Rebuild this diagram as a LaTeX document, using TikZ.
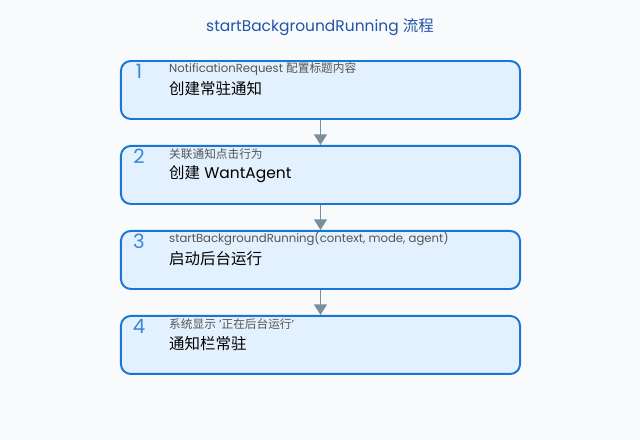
\documentclass[tikz,border=0pt]{standalone}
\usepackage{fontspec}
\setmainfont{Poppins}
\newfontfamily\cjk{Noto Sans CJK SC}
\usetikzlibrary{positioning,arrows.meta}
\definecolor{bgcol}{HTML}{F8FAFC}
\definecolor{boxblue}{HTML}{1976D2}
\definecolor{boxfill}{HTML}{E3F0FD}
\definecolor{arrowgray}{HTML}{78909C}
\definecolor{titleblue}{HTML}{2155A6}
\definecolor{numblue}{HTML}{3A86D8}
\definecolor{subgray}{HTML}{555555}
\tikzset{
  stepbox/.style={draw=boxblue, fill=boxfill, line width=1.4pt, rounded corners=7pt,
    minimum width=9.975cm, minimum height=1.45cm},
  stepnum/.style={text=numblue, font=\fontsize{14}{14}\selectfont, inner sep=0pt},
  subtext/.style={text=subgray, font=\fontsize{8.3}{10}\selectfont, anchor=west, inner sep=0pt},
  maintext/.style={text=black, font=\fontsize{11}{13}\selectfont, anchor=west, inner sep=0pt},
  flow/.style={draw=arrowgray, line width=1.4pt, -{Triangle[width=9pt,length=7.5pt]}}
}
\begin{document}
\begin{tikzpicture}[x=0.025cm,y=-0.025cm]
\fill[bgcol] (0,0) rectangle (640,440);
\node[text=titleblue, font=\fontsize{11}{13}\selectfont] (title) at (320,27) {startBackgroundRunning {\cjk 流程}};
% steps
\node[stepbox] (s1) at (320.5,90) {};
\node[stepbox, below=0.625cm of s1] (s2) {};
\node[stepbox, below=0.625cm of s2] (s3) {};
\node[stepbox, below=0.625cm of s3] (s4) {};
\node[stepnum] (n1) at ([shift={(19,11)}]s1.north west) {1};
\node[stepnum] (n2) at ([shift={(19,11)}]s2.north west) {2};
\node[stepnum] (n3) at ([shift={(19,11)}]s3.north west) {3};
\node[stepnum] (n4) at ([shift={(19,11)}]s4.north west) {4};
\node[subtext] (t1) at ([shift={(49,9)}]s1.north west) {NotificationRequest {\cjk 配置标题内容}};
\node[subtext] (t2) at ([shift={(49,9)}]s2.north west) {\cjk 关联通知点击行为};
\node[subtext] (t3) at ([shift={(49,9)}]s3.north west) {startBackgroundRunning(context, mode, agent)};
\node[subtext] (t4) at ([shift={(49,9)}]s4.north west) {{\cjk 系统显示} '{\cjk 正在后台运行}'};
\node[maintext] (m1) at ([shift={(49,29)}]s1.north west) {\cjk 创建常驻通知};
\node[maintext] (m2) at ([shift={(49,29)}]s2.north west) {{\cjk 创建} WantAgent};
\node[maintext] (m3) at ([shift={(49,29)}]s3.north west) {\cjk 启动后台运行};
\node[maintext] (m4) at ([shift={(49,29)}]s4.north west) {\cjk 通知栏常驻};
% arrows
\draw[flow] (s1) -- (s2);
\draw[flow] (s2) -- (s3);
\draw[flow] (s3) -- (s4);
\end{tikzpicture}
\end{document}
